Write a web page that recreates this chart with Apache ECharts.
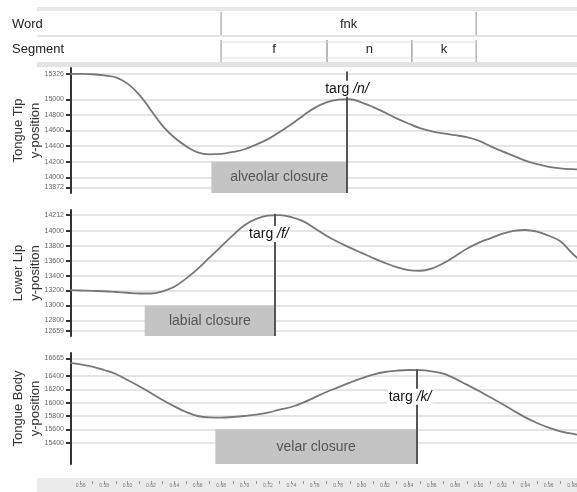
<!DOCTYPE html>
<html>
<head>
<meta charset="utf-8">
<script src="https://cdn.jsdelivr.net/npm/echarts@6/dist/echarts.min.js"></script>
<style>
html, body { margin: 0; padding: 0; background: #fff; }
#chart { width: 577px; height: 492px; }
</style>
</head>
<body>
<div id="chart"></div>
<script>
// sample times (s)
var times = [0.55, 0.56, 0.57, 0.58, 0.59, 0.60, 0.61, 0.62, 0.63, 0.64, 0.65, 0.66, 0.67, 0.68, 0.69,
             0.70, 0.71, 0.72, 0.73, 0.74, 0.75, 0.76, 0.77, 0.78, 0.79, 0.80, 0.81, 0.82, 0.83, 0.84,
             0.85, 0.86, 0.87, 0.88, 0.89, 0.90, 0.91, 0.92, 0.93, 0.94, 0.95, 0.96, 0.97, 0.98, 0.99];

var tongueTip = [15326, 15325, 15320, 15305, 15280, 15200, 15060, 14860, 14660, 14510, 14400, 14320, 14295, 14300, 14325,
                 14360, 14420, 14490, 14580, 14680, 14790, 14890, 14960, 14995, 15000, 14960, 14900, 14830, 14755, 14690,
                 14630, 14590, 14562, 14540, 14515, 14470, 14400, 14335, 14275, 14215, 14170, 14135, 14115, 14105, 14100];

var lowerLip = [13205, 13200, 13195, 13190, 13180, 13170, 13160, 13160, 13190, 13250, 13360, 13490, 13640, 13790, 13940,
                14075, 14160, 14205, 14210, 14185, 14130, 14035, 13935, 13850, 13775, 13705, 13635, 13570, 13515, 13475,
                13465, 13495, 13565, 13660, 13760, 13840, 13900, 13960, 14000, 14012, 13990, 13935, 13860, 13700, 13560];

var tongueBody = [16600, 16575, 16540, 16490, 16430, 16340, 16245, 16145, 16040, 15945, 15860, 15800, 15778, 15775, 15785,
                  15800, 15820, 15850, 15895, 15935, 16000, 16080, 16160, 16230, 16300, 16365, 16420, 16460, 16480, 16490,
                  16488, 16470, 16435, 16360, 16270, 16180, 16080, 15985, 15880, 15780, 15695, 15625, 15570, 15535, 15505];

// y tick labels
var ttTicks = [13872, 14000, 14200, 14400, 14600, 14800, 15000, 15326];
var llTicks = [12659, 12800, 13000, 13200, 13400, 13600, 13800, 14000, 14212];
var tbTicks = [15400, 15600, 15800, 16000, 16200, 16400, 16665];

// time axis
var timeLabels = [0.56, 0.58, 0.60, 0.62, 0.64, 0.66, 0.68, 0.70, 0.72, 0.74, 0.76, 0.78,
                  0.80, 0.82, 0.84, 0.86, 0.88, 0.90, 0.92, 0.94, 0.96, 0.98];
var timeMinor = [0.57, 0.59, 0.61, 0.63, 0.65, 0.67, 0.69, 0.71, 0.73, 0.75, 0.77, 0.79,
                 0.81, 0.83, 0.85, 0.87, 0.89, 0.91, 0.93, 0.95, 0.97];

// annotation tiers
var tiers = ['Word', 'Segment'];
var wordLabels = ['fnk'];
var wordBounds = [0.68, 0.898];
var segLabels = ['f', 'n', 'k'];
var segBounds = [0.68, 0.7705, 0.843, 0.898];

// gestures
var closureNames = ['alveolar closure', 'labial closure', 'velar closure'];
var closureStart = [0.6717, 0.6147, 0.6751];
var targetNames = ['n', 'f', 'k'];
var targetTimes = [0.7876, 0.726, 0.8475];

var T0 = 0.5517, T1 = 0.9842;
var FONT = '"Liberation Sans", Arial, sans-serif';

var tierItems = [];
wordLabels.forEach(function (l, i) {
  tierItems.push({ tier: 0, label: l, start: wordBounds[i], end: wordBounds[i + 1] });
});
segLabels.forEach(function (l, i) {
  tierItems.push({ tier: 1, label: l, start: segBounds[i], end: segBounds[i + 1] });
});

var panels = [
  { name: 'Tongue Tip\ny-position', top: 68, height: 125, min: 13800, max: 15400, ticks: ttTicks,
    vals: tongueTip, boxTop: 14200, lineTop: 15355, labelY: 15133, labelDx: 0 },
  { name: 'Lower Lip\ny-position', top: 210, height: 126, min: 12590, max: 14280, ticks: llTicks,
    vals: lowerLip, boxTop: 13000, lineTop: 14230, labelY: 13959, labelDx: -6 },
  { name: 'Tongue Body\ny-position', top: 353, height: 111, min: 15080, max: 16745, ticks: tbTicks,
    vals: tongueBody, boxTop: 15600, lineTop: 16500, labelY: 16087, labelDx: -7 }
];

var grids = [{ left: 71, right: 0, top: 12, height: 50, outerBoundsMode: 'none' }];
var xAxes = [{ gridIndex: 0, type: 'value', min: T0, max: T1, show: false }];
var yAxes = [{
  gridIndex: 0, type: 'category', data: tiers, inverse: true,
  axisLine: { show: false }, axisTick: { show: false }, splitLine: { show: false },
  axisLabel: { align: 'left', margin: 59, fontSize: 13, color: '#222', fontFamily: FONT }
}];

var series = [{
  type: 'custom',
  xAxisIndex: 0, yAxisIndex: 0,
  data: tierItems.map(function (d) { return [d.start, d.end, d.tier]; }),
  encode: { x: [0, 1], y: 2 },
  renderItem: function (params, api) {
    var item = tierItems[params.dataIndex];
    var a = api.coord([item.start, item.tier]);
    var b = api.coord([item.end, item.tier]);
    var band = api.size([0, 1])[1];
    var y0 = a[1] - band / 2, y1 = a[1] + band / 2;
    if (item.tier === 0) { y1 -= 2; } else { y0 += 3; }
    var kids = [
      { type: 'line', shape: { x1: a[0], y1: y0, x2: a[0], y2: y1 }, style: { stroke: '#b4b4b4', lineWidth: 1.5 } },
      { type: 'line', shape: { x1: b[0], y1: y0, x2: b[0], y2: y1 }, style: { stroke: '#b4b4b4', lineWidth: 1.5 } }
    ];
    if (item.tier === 1) {
      kids.push({ type: 'line', shape: { x1: a[0], y1: y0 + 2, x2: b[0], y2: y0 + 2 }, style: { stroke: '#e2e2e2', lineWidth: 1 } });
      kids.push({ type: 'line', shape: { x1: a[0], y1: y1 - 4, x2: b[0], y2: y1 - 4 }, style: { stroke: '#e2e2e2', lineWidth: 1 } });
    }
    kids.push({
      type: 'text', x: (a[0] + b[0]) / 2, y: a[1],
      style: { text: item.label, align: 'center', verticalAlign: 'middle', fill: '#222', fontSize: 13, fontFamily: FONT }
    });
    return { type: 'group', children: kids };
  }
}];

panels.forEach(function (p, i) {
  var g = i + 1;
  grids.push({ left: 71, right: 0, top: p.top, height: p.height, outerBoundsMode: 'none' });
  xAxes.push({ gridIndex: g, type: 'value', min: T0, max: T1, show: false });
  yAxes.push({
    gridIndex: g, type: 'value', min: p.min, max: p.max,
    name: p.name, nameLocation: 'middle', nameRotate: 90, nameGap: 27, nameMoveOverlap: false,
    nameTextStyle: { fontFamily: FONT, fontSize: 13, color: '#333', lineHeight: 17 },
    axisLine: { show: true, lineStyle: { color: '#333', width: 2 } },
    axisTick: { show: true, customValues: p.ticks, length: 5, lineStyle: { color: '#333', width: 2 } },
    axisLabel: {
      customValues: p.ticks, fontSize: 7, color: '#666', margin: 7, fontFamily: FONT,
      formatter: function (v) { return String(v); }
    },
    splitLine: { show: true, lineStyle: { color: '#dcdcdc', width: 1.5 } }
  });
  var t = targetTimes[i];
  series.push({
    type: 'line',
    xAxisIndex: g, yAxisIndex: g,
    data: times.map(function (tt, k) { return [tt, p.vals[k]]; }),
    smooth: 0.4,
    showSymbol: false,
    lineStyle: { color: '#777', width: 1.8 },
    markArea: {
      silent: true,
      itemStyle: { color: '#c4c4c4' },
      label: { show: true, position: 'inside', color: '#555', fontSize: 14, fontFamily: FONT },
      data: [[{ name: closureNames[i], xAxis: closureStart[i], yAxis: p.boxTop }, { xAxis: t, yAxis: p.min }]]
    },
    markLine: {
      silent: true, symbol: 'none',
      lineStyle: { color: '#555', width: 2, type: 'solid' },
      label: { show: false },
      data: [[{ coord: [t, p.lineTop] }, { coord: [t, p.min] }]]
    },
    markPoint: {
      silent: true, z: 10,
      symbol: 'rect', symbolSize: 1, itemStyle: { color: 'rgba(0,0,0,0)' },
      label: {
        show: true, position: 'inside', offset: [p.labelDx, 0],
        formatter: 'targ {i|/' + targetNames[i] + '/}',
        color: '#111', fontSize: 14, fontFamily: FONT,
        backgroundColor: '#fff', padding: [1, 1],
        rich: { i: { fontStyle: 'italic', fontSize: 14, color: '#111', fontFamily: FONT } }
      },
      data: [{ coord: [t, p.labelY] }]
    }
  });
});

// bottom time ruler
grids.push({ left: 71, right: 0, top: 480, height: 1, outerBoundsMode: 'none' });
xAxes.push({
  gridIndex: 4, type: 'value', min: T0, max: T1,
  axisLine: { show: false },
  axisTick: { show: true, customValues: timeLabels.concat(timeMinor), length: 3, lineStyle: { color: '#999' } },
  axisLabel: {
    customValues: timeLabels, fontSize: 5, color: '#777', margin: 2, fontFamily: FONT,
    formatter: function (v) { return v.toFixed(2); }
  },
  splitLine: { show: false }
});
yAxes.push({ gridIndex: 4, type: 'value', show: false });

var chart = echarts.init(document.getElementById('chart'));
chart.setOption({
  animation: false,
  backgroundColor: '#fff',
  graphic: [
    { type: 'rect', z: -10, shape: { x: 37, y: 7, width: 540, height: 4 }, style: { fill: '#e8e8e8' } },
    { type: 'rect', z: -10, shape: { x: 37, y: 35, width: 540, height: 2 }, style: { fill: '#e4e4e4' } },
    { type: 'rect', z: -10, shape: { x: 37, y: 62, width: 540, height: 5 }, style: { fill: '#e3e3e3' } },
    { type: 'rect', z: -10, shape: { x: 37, y: 478, width: 540, height: 14 }, style: { fill: '#ebebeb' } }
  ],
  grid: grids,
  xAxis: xAxes,
  yAxis: yAxes,
  series: series
});
</script>
</body>
</html>
